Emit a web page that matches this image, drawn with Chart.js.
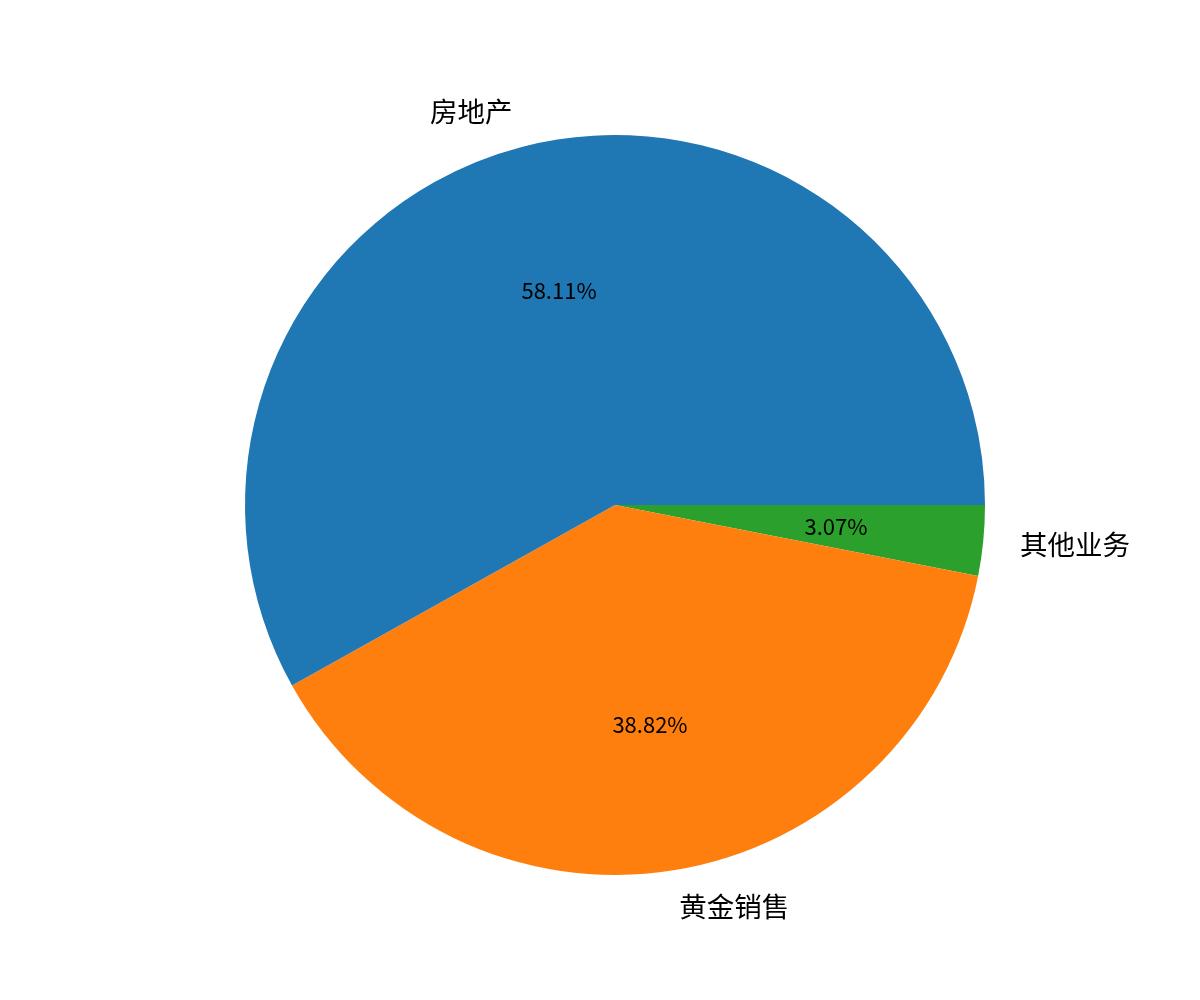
<!DOCTYPE html>
<html>
<head>
<meta charset="utf-8">
<script src="https://cdn.jsdelivr.net/npm/chart.js@4"></script>
<style>
  body { margin: 0; background: #ffffff; }
  #wrap { width: 1200px; height: 1000px; position: relative; }
</style>
</head>
<body>
<div id="wrap"><canvas id="pieChart"></canvas></div>
<script>
// data, in matplotlib order (counter-clockwise from 3 o'clock)
var categories = ["房地产", "黄金销售", "其他业务"];
var shares = [58.11, 38.82, 3.07];
var sliceColors = ["#1f77b4", "#ff7f0e", "#2ca02c"];

// Chart.js goes clockwise, so feed the slices in reverse
var labelsRev = categories.slice().reverse();
var valuesRev = shares.slice().reverse();
var colorsRev = sliceColors.slice().reverse();

var cjkFont = '"Noto Sans CJK SC", "Noto Sans", sans-serif';

// draws outer labels (1.1 r) and percentages (0.6 r) like matplotlib
var pieText = {
    id: "pieText",
    afterDatasetsDraw: function(chart) {
        var ctx = chart.ctx;
        var arcs = chart.getDatasetMeta(0).data;
        ctx.save();
        ctx.fillStyle = "#000000";
        arcs.forEach(function(arc, i) {
            var p = arc.getProps(["x", "y", "startAngle", "endAngle", "outerRadius"], true);
            var mid = (p.startAngle + p.endAngle) / 2;
            var c = Math.cos(mid), s = Math.sin(mid);

            ctx.font = "27.5px " + cjkFont;
            ctx.textBaseline = "middle";
            ctx.textAlign = c >= 0 ? "left" : "right";
            ctx.fillText(labelsRev[i], p.x + c * p.outerRadius * 1.1, p.y + s * p.outerRadius * 1.1);

            ctx.font = "22px " + cjkFont;
            ctx.textAlign = "center";
            ctx.fillText(valuesRev[i].toFixed(2) + "%", p.x + c * p.outerRadius * 0.6, p.y + s * p.outerRadius * 0.6);
        });
        ctx.restore();
    }
};

var ctx = document.getElementById("pieChart").getContext("2d");
new Chart(ctx, {
    type: "pie",
    data: {
        labels: labelsRev,
        datasets: [{
            data: valuesRev,
            backgroundColor: colorsRev,
            borderWidth: 0
        }]
    },
    options: {
        responsive: true,
        maintainAspectRatio: false,
        animation: false,
        rotation: 90, // start at 3 o'clock
        layout: { padding: { top: 135, right: 215, bottom: 125, left: 245 } }, // puts centre at 615,505 r=370
        plugins: {
            legend: { display: false },
            tooltip: { enabled: false }
        }
    },
    plugins: [pieText]
});
</script>
</body>
</html>
